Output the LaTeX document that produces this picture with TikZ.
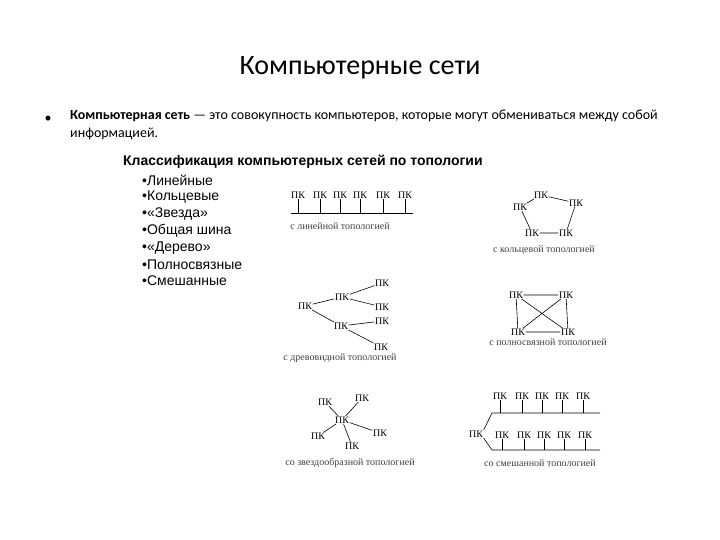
\documentclass[tikz,border=0pt]{standalone}
\usepackage{fontspec}
\setmainfont{Carlito}
\newfontfamily\arialf{Liberation Sans}
\newfontfamily\timesf{Liberation Serif}
\begin{document}
\begin{tikzpicture}[x=1pt,y=-1pt,
  pc/.style={font=\timesf\fontsize{10}{10}\selectfont, inner sep=0.5pt},
  captext/.style={font=\timesf\fontsize{10}{10}\selectfont, inner sep=0pt, text=black!75},
  ln/.style={line width=0.6pt},
  li/.style={anchor=west, font=\arialf\fontsize{14}{16}\selectfont, inner sep=0pt}]
\path[use as bounding box] (0,0) rectangle (720,540);
\node (title) at (360,68) {\fontsize{28}{32}\selectfont Компьютерные сети};
\node (bul) at (48,119) {\fontsize{14}{16}\selectfont •};
\node[anchor=north west, inner sep=0pt, align=left, font=\fontsize{14}{18}\selectfont] (def) at (70,110)
 {\textbf{Компьютерная сеть} — это совокупность компьютеров, которые могут обмениваться между собой\\информацией.};
\node[li, font=\arialf\bfseries\fontsize{14}{16}\selectfont] (hd) at (123,162) {Классификация компьютерных сетей по топологии};
\node[li] (l1) at (142,180) {•Линейные};
\node[li] (l2) at (142,197) {•Кольцевые};
\node[li] (l3) at (142,214) {•«Звезда»};
\node[li] (l4) at (142,231) {•Общая шина};
\node[li] (l5) at (142,248) {•«Дерево»};
\node[li] (l6) at (142,265) {•Полносвязные};
\node[li] (l7) at (142,281) {•Смешанные};
% linear
\coordinate (b1) at (291,213); \coordinate (b2) at (413,213);
\draw[ln] (b1) -- (b2);
\foreach \i/\x in {1/298,2/320,3/340,4/360,5/383,6/405}{
  \node[pc] (lp\i) at (\x,195) {ПК};
  \coordinate (lt\i) at (\x,213);
  \draw[ln] (lp\i.south) -- (lt\i);}
\node[captext] (c1) at (340,226) {с линейной топологией};
% ring
\node[pc] (r1) at (541,195) {ПК};
\node[pc] (r2) at (576,203) {ПК};
\node[pc] (r3) at (520,207) {ПК};
\node[pc] (r4) at (532,233) {ПК};
\node[pc] (r5) at (566,233) {ПК};
\draw[ln] (r1) -- (r2) -- (r5) -- (r4) -- (r3) -- (r1);
\node[captext] (c2) at (544,250) {с кольцевой топологией};
% tree
\node[pc] (t0) at (305,306) {ПК};
\node[pc] (t1) at (342,297) {ПК};
\node[pc] (t2) at (341,326) {ПК};
\node[pc] (t3) at (382,283) {ПК};
\node[pc] (t4) at (382,307) {ПК};
\node[pc] (t5) at (382,321) {ПК};
\node[pc] (t6) at (381,347) {ПК};
\draw[ln] (t0) -- (t1) -- (t3); \draw[ln] (t1) -- (t4);
\draw[ln] (t0) -- (t2) -- (t5); \draw[ln] (t2) -- (t6);
\node[captext] (c3) at (340,358) {с древовидной топологией};
% mesh
\node[pc] (m1) at (516,295) {ПК};
\node[pc] (m2) at (566,295) {ПК};
\node[pc] (m3) at (518,332) {ПК};
\node[pc] (m4) at (568,332) {ПК};
\draw[ln] (m1) -- (m2) -- (m4) -- (m3) -- (m1) -- (m4); \draw[ln] (m2) -- (m3);
\node[captext] (c4) at (548,342) {с полносвязной топологией};
% star
\node[pc] (s0) at (342,420) {ПК};
\node[pc] (s1) at (325,402) {ПК};
\node[pc] (s2) at (362,398) {ПК};
\node[pc] (s3) at (318,436) {ПК};
\node[pc] (s4) at (380,433) {ПК};
\node[pc] (s5) at (352,446) {ПК};
\foreach \i in {1,...,5}{\draw[ln] (s0) -- (s\i);}
\node[captext] (c5) at (350,463) {со звездообразной топологией};
% mixed
\node[pc] (x0) at (476,434) {ПК};
\coordinate (u0) at (492,413); \coordinate (u1) at (600,413);
\coordinate (d0) at (492,450); \coordinate (d1) at (600,450);
\draw[ln] (x0.north east) -- (u0) -- (u1);
\draw[ln] (x0.south east) -- (d0) -- (d1);
\foreach \i/\x in {1/500,2/522,3/542,4/562,5/583}{
  \node[pc] (xu\i) at (\x,396) {ПК};
  \coordinate (xut\i) at (\x,413);
  \draw[ln] (xu\i.south) -- (xut\i);
  \node[pc] (xd\i) at (\x+2,435) {ПК};
  \coordinate (xdt\i) at (\x+2,450);
  \draw[ln] (xd\i.south) -- (xdt\i);}
\node[captext] (c6) at (540,463) {со смешанной топологией};
\end{tikzpicture}
\end{document}
